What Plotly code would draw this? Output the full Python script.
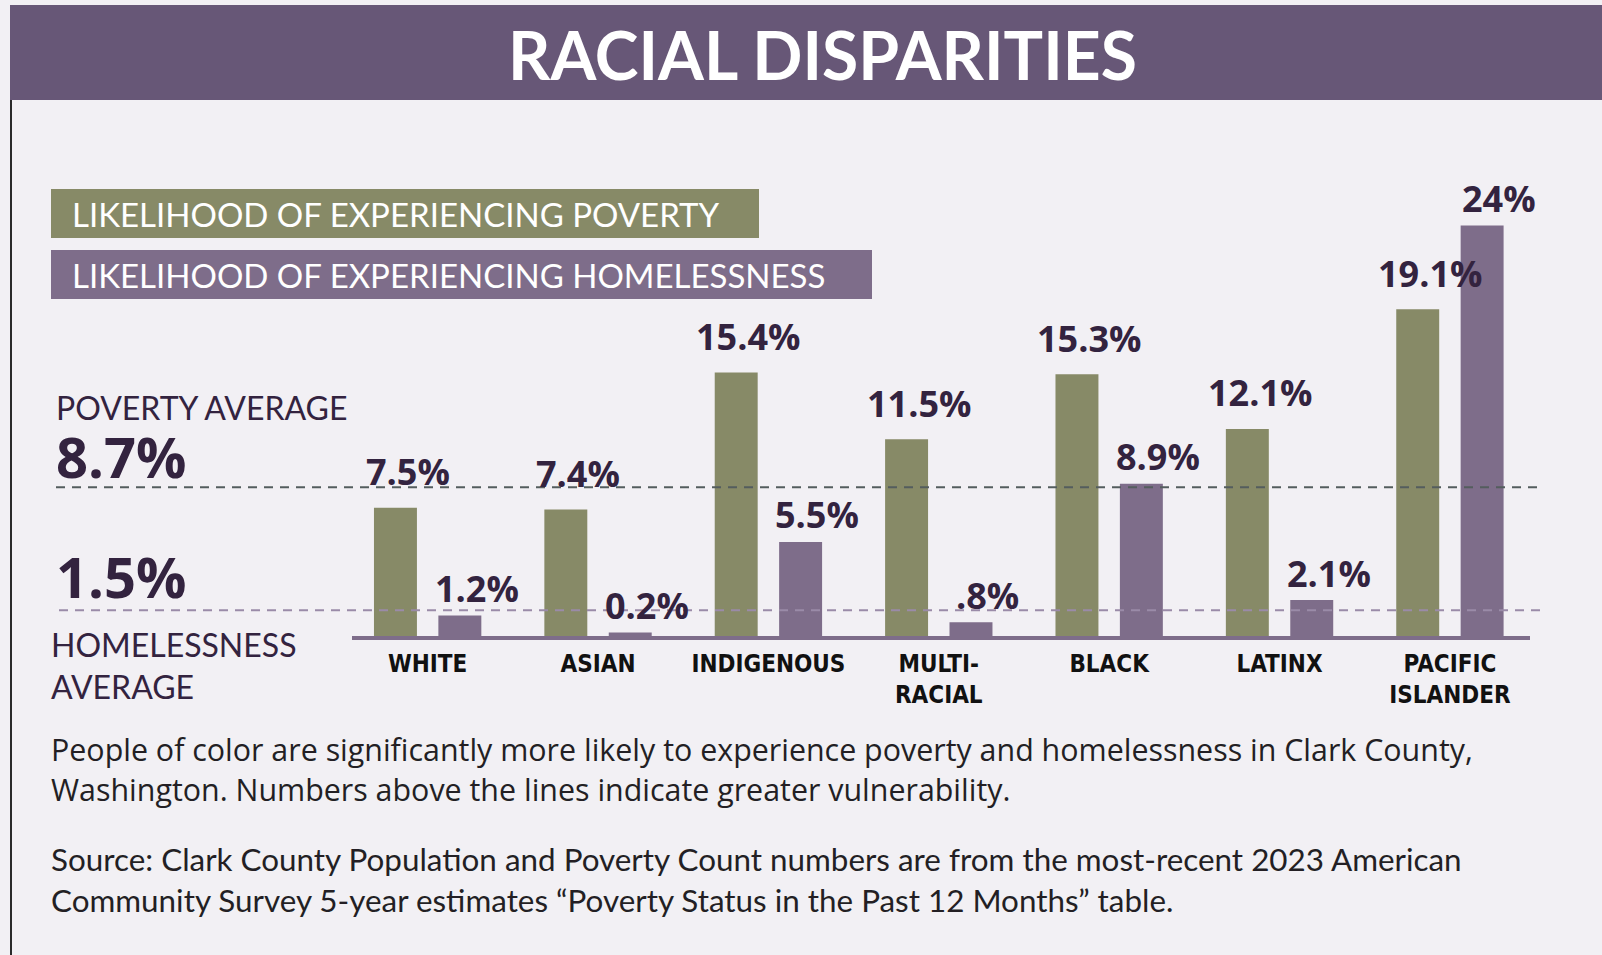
import plotly.graph_objects as go

# ---------------- data ----------------
categories = ["WHITE", "ASIAN", "INDIGENOUS", "MULTI-<br>RACIAL", "BLACK", "LATINX", "PACIFIC<br>ISLANDER"]
poverty = [7.5, 7.4, 15.4, 11.5, 15.3, 12.1, 19.1]
poverty_labels = ["7.5%", "7.4%", "15.4%", "11.5%", "15.3%", "12.1%", "19.1%"]
homeless = [1.2, 0.2, 5.5, 0.8, 8.9, 2.1, 24.0]
homeless_labels = ["1.2%", "0.2%", "5.5%", ".8%", "8.9%", "2.1%", "24%"]
poverty_avg = 8.7
homeless_avg = 1.5
poverty_avg_label = "8.7%"
homeless_avg_label = "1.5%"

title_text = "RACIAL DISPARITIES"
legend_poverty = "LIKELIHOOD OF EXPERIENCING POVERTY"
legend_homeless = "LIKELIHOOD OF EXPERIENCING HOMELESSNESS"
note_text = ("People of color are significantly more likely to experience poverty and homelessness in Clark County,<br>"
             "Washington. Numbers above the lines indicate greater vulnerability.")
source_text = ("Source: Clark County Population and Poverty Count numbers are from the most-recent 2023 American<br>"
               "Community Survey 5-year estimates \u201cPoverty Status in the Past 12 Months\u201d table.")

# ---------------- style ----------------
W, H = 1602, 955
BG = "#f2f0f4"
BAR_TITLE = "#675777"
GREEN = "#878a67"
PURPLE = "#7e6d8a"
DARK = "#33233f"
POV_LINE = "#545d5e"
HOM_LINE = "#9a8ba8"

GEO = "Lato, 'Open Sans', sans-serif"
HUM = "'Open Sans', 'Noto Sans', sans-serif"
NARROW = "'Liberation Sans Narrow', 'DejaVu Sans Condensed', 'Arial Narrow', sans-serif"


def px(x):
    return x / W


def py(y):
    return 1 - y / H


fig = go.Figure()
fig.add_trace(go.Bar(x=categories, y=poverty, name="Poverty", marker_color=GREEN,
                     marker_line_width=0, hoverinfo="skip"))
fig.add_trace(go.Bar(x=categories, y=homeless, name="Homelessness", marker_color=PURPLE,
                     marker_line_width=0, hoverinfo="skip"))

annotations = []
# value labels above bars
for c, v, t in zip(categories, poverty, poverty_labels):
    annotations.append(dict(x=c, y=v, xref="x", yref="y", text=t, showarrow=False,
                            xshift=-20, yshift=36, yanchor="middle",
                            font=dict(family=HUM, size=36, color=DARK, weight="bold")))
for c, v, t in zip(categories, homeless, homeless_labels):
    annotations.append(dict(x=c, y=v, xref="x", yref="y", text=t, showarrow=False,
                            xshift=49, yshift=27, yanchor="middle",
                            font=dict(family=HUM, size=36, color=DARK, weight="bold")))

# title
annotations.append(dict(x=px(822), y=py(54), xref="paper", yref="paper", text=title_text,
                        showarrow=False, xanchor="center", yanchor="middle",
                        font=dict(family=GEO, size=66, color="white", weight="bold")))
# legend texts
annotations.append(dict(x=px(70), y=py(214), xref="paper", yref="paper", text=legend_poverty,
                        showarrow=False, xanchor="left", yanchor="middle",
                        font=dict(family=GEO, size=33, color="white")))
annotations.append(dict(x=px(70), y=py(275), xref="paper", yref="paper", text=legend_homeless,
                        showarrow=False, xanchor="left", yanchor="middle",
                        font=dict(family=GEO, size=33, color="white")))
# left side labels
annotations.append(dict(x=px(54), y=py(407), xref="paper", yref="paper", text="POVERTY AVERAGE",
                        showarrow=False, xanchor="left", yanchor="middle",
                        font=dict(family=GEO, size=32, color=DARK)))
annotations.append(dict(x=px(54), y=py(456), xref="paper", yref="paper", text=poverty_avg_label,
                        showarrow=False, xanchor="left", yanchor="middle",
                        font=dict(family=HUM, size=56, color=DARK, weight="bold")))
annotations.append(dict(x=px(54), y=py(576), xref="paper", yref="paper", text=homeless_avg_label,
                        showarrow=False, xanchor="left", yanchor="middle",
                        font=dict(family=HUM, size=56, color=DARK, weight="bold")))
annotations.append(dict(x=px(49), y=py(665), xref="paper", yref="paper",
                        text="HOMELESSNESS<br>AVERAGE", align="left",
                        showarrow=False, xanchor="left", yanchor="middle",
                        font=dict(family=GEO, size=32, color=DARK)))
# note + source
annotations.append(dict(x=px(49), y=py(769), xref="paper", yref="paper", text=note_text, align="left",
                        showarrow=False, xanchor="left", yanchor="middle",
                        font=dict(family=HUM, size=30.4, color="#231f24")))
annotations.append(dict(x=px(49), y=py(879), xref="paper", yref="paper", text=source_text, align="left",
                        showarrow=False, xanchor="left", yanchor="middle",
                        font=dict(family=GEO, size=31.4, color="#231f24")))

shapes = [
    # title bar
    dict(type="rect", xref="paper", yref="paper", x0=px(10), x1=1, y0=py(100), y1=py(5),
         fillcolor=BAR_TITLE, line_width=0, layer="below"),
    # left border
    dict(type="line", xref="paper", yref="paper", x0=px(11), x1=px(11), y0=py(100), y1=0,
         line=dict(color="#2a2a2a", width=2)),
    # legend boxes
    dict(type="rect", xref="paper", yref="paper", x0=px(51), x1=px(759), y0=py(238), y1=py(189),
         fillcolor=GREEN, line_width=0, layer="below"),
    dict(type="rect", xref="paper", yref="paper", x0=px(51), x1=px(872), y0=py(299), y1=py(250),
         fillcolor=PURPLE, line_width=0, layer="below"),
    # average lines
    dict(type="line", xref="paper", yref="y", x0=px(56), x1=px(1541), y0=poverty_avg, y1=poverty_avg,
         line=dict(color=POV_LINE, width=2, dash="9px,7px"), layer="above"),
    dict(type="line", xref="paper", yref="y", x0=px(59), x1=px(1543), y0=homeless_avg, y1=homeless_avg,
         line=dict(color=HOM_LINE, width=2, dash="9px,7px"), layer="above"),
]

fig.update_layout(
    width=W, height=H,
    margin=dict(l=0, r=0, t=0, b=0),
    paper_bgcolor=BG, plot_bgcolor="rgba(0,0,0,0)",
    barmode="group", bargap=0.244, bargroupgap=0.333,
    showlegend=False,
    annotations=annotations,
    shapes=shapes,
    xaxis=dict(domain=[px(352), px(1530)], range=[-0.444, 6.47], type="category",
               showline=True, linecolor=PURPLE, linewidth=4, showgrid=False, zeroline=False,
               ticks="", ticklabelstandoff=3,
               tickfont=dict(family=NARROW, size=24, color="#111111", weight="bold")),
    yaxis=dict(domain=[py(636), py(157)], range=[0, 28], visible=False, showgrid=False,
               zeroline=False),
)

fig.write_html("out.html", config={"displayModeBar": False},
               post_script="document.body.style.margin='0';document.body.style.overflow='hidden';")
